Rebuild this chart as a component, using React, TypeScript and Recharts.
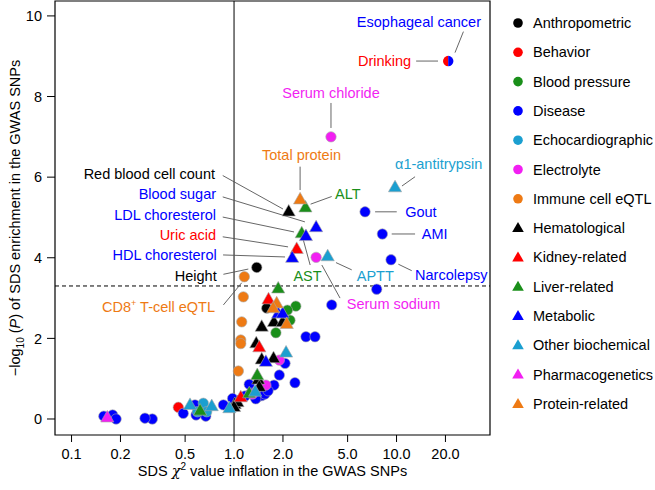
import React from 'react';
import {
  ScatterChart,
  Scatter,
  XAxis,
  YAxis,
  ReferenceLine,
  ReferenceArea,
  Label
} from 'recharts';

type Pt = { x: number; y: number; name?: string };

// values (x = SDS chi2 inflation, y = -log10 P)
const anthropometric: Pt[] = [
  { x: 1.38, y: 3.76, name: 'Height' },
  { x: 1.59, y: 2.75 },
];
const behavior: Pt[] = [
  { x: 20.8, y: 8.88, name: 'Drinking' },
  { x: 0.454, y: 0.29 },
];
const bloodPressure: Pt[] = [
  { x: 2.4, y: 2.8 }, { x: 2.13, y: 2.7 }, { x: 2.21, y: 2.45 }, { x: 1.81, y: 2.14 },
];
const disease: Pt[] = [
  { x: 20.8, y: 8.88, name: 'Esophageal cancer' },
  { x: 6.4, y: 5.14, name: 'Gout' },
  { x: 8.18, y: 4.59, name: 'AMI' },
  { x: 9.25, y: 3.95, name: 'Narcolepsy' },
  { x: 7.55, y: 3.22 }, { x: 3.99, y: 2.83 }, { x: 2.77, y: 2.04 }, { x: 3.15, y: 2.04 },
  { x: 2.37, y: 0.9 }, { x: 2.06, y: 1.38 }, { x: 1.9, y: 1.09 }, { x: 1.76, y: 0.84 },
  { x: 1.24, y: 0.86 }, { x: 1.17, y: 0.57 }, { x: 0.98, y: 0.51 }, { x: 0.86, y: 0.35 },
  { x: 0.67, y: 0.07 }, { x: 0.584, y: 0.1 }, { x: 0.575, y: 0.35 }, { x: 0.487, y: 0.14 },
  { x: 0.314, y: 0.0 }, { x: 0.283, y: 0.02 }, { x: 0.158, y: 0.07 }, { x: 0.179, y: 0.1 },
  { x: 0.188, y: 0.0 }, { x: 1.27, y: 0.64 }, { x: 1.33, y: 0.58 }, { x: 1.4, y: 0.55 },
  { x: 1.48, y: 0.58 }, { x: 1.55, y: 0.62 }, { x: 1.62, y: 0.7 }, { x: 1.36, y: 0.5 },
];
const echocardiographic: Pt[] = [
  { x: 0.647, y: 0.39 }, { x: 0.595, y: 0.18 }, { x: 0.679, y: 0.18 },
];
const electrolyte: Pt[] = [
  { x: 3.95, y: 7.0, name: 'Serum chloride' },
  { x: 3.2, y: 4.01, name: 'Serum sodium' },
  { x: 1.9, y: 1.46 }, { x: 1.57, y: 0.84 }, { x: 1.3, y: 0.62 },
];
const immuneEqtl: Pt[] = [
  { x: 1.157, y: 3.53 }, { x: 1.141, y: 3.03 }, { x: 1.115, y: 2.41 },
  { x: 1.1, y: 1.96 }, { x: 1.1, y: 1.87 }, { x: 1.063, y: 1.19 },
];
const hematological: Pt[] = [
  { x: 2.17, y: 5.15, name: 'Red blood cell count' },
  { x: 1.76, y: 2.41 }, { x: 1.99, y: 2.41 }, { x: 1.48, y: 2.29 }, { x: 1.37, y: 1.88 },
  { x: 1.48, y: 1.48 }, { x: 1.75, y: 1.51 }, { x: 1.41, y: 0.98 }, { x: 1.43, y: 0.8 },
  { x: 1.01, y: 0.37 }, { x: 1.05, y: 0.42 }, { x: 1.0, y: 0.3 },
];
const kidney: Pt[] = [
  { x: 2.43, y: 4.22, name: 'Uric acid' },
  { x: 1.63, y: 2.97 }, { x: 1.43, y: 1.78 }, { x: 1.1, y: 0.54 },
];
const liver: Pt[] = [
  { x: 2.75, y: 5.25, name: 'ALT' },
  { x: 2.61, y: 4.61, name: 'AST' },
  { x: 1.87, y: 3.24 }, { x: 1.39, y: 1.09 }, { x: 0.618, y: 0.21 }, { x: 1.24, y: 0.64 },
];
const metabolic: Pt[] = [
  { x: 3.2, y: 4.76, name: 'Blood sugar' },
  { x: 2.77, y: 4.54, name: 'LDL choresterol' },
  { x: 2.28, y: 4.0, name: 'HDL choresterol' },
  { x: 1.87, y: 2.62 }, { x: 1.99, y: 2.62 }, { x: 1.57, y: 1.42 },
];
const otherBiochemical: Pt[] = [
  { x: 9.79, y: 5.75, name: 'α1-antitrypsin' },
  { x: 3.77, y: 4.04, name: 'APTT' },
  { x: 2.09, y: 1.65 }, { x: 0.536, y: 0.35 }, { x: 0.729, y: 0.32 },
  { x: 0.936, y: 0.27 }, { x: 1.35, y: 0.68 },
];
const pharmacogenetics: Pt[] = [{ x: 0.166, y: 0.04 }];
const proteinRelated: Pt[] = [
  { x: 2.55, y: 5.45, name: 'Total protein' },
  { x: 1.83, y: 2.87 }, { x: 1.74, y: 2.75 }, { x: 2.11, y: 2.36 },
];

const X_DOMAIN = [0.0791, 37.6];
const Y_DOMAIN = [-0.397, 10.37];
const X_TICKS = [0.1, 0.2, 0.5, 1, 2, 5, 10, 20];
const Y_TICKS = [0, 2, 4, 6, 8, 10];
const P_CUTOFF = 3.3;

const BLACK = '#000000';
const RED = '#ff0000';
const GREEN = '#1a8f1a';
const BLUE = '#0000ff';
const CYAN = '#1b9fd0';
const MAGENTA = '#f21ff2';
const ORANGE = '#ee7a14';

const categories = [
  { name: 'Anthropometric', color: BLACK, tri: false, data: anthropometric },
  { name: 'Behavior', color: RED, tri: false, data: behavior },
  { name: 'Blood pressure', color: GREEN, tri: false, data: bloodPressure },
  { name: 'Disease', color: BLUE, tri: false, data: disease },
  { name: 'Echocardiographic', color: CYAN, tri: false, data: echocardiographic },
  { name: 'Electrolyte', color: MAGENTA, tri: false, data: electrolyte },
  { name: 'Immune cell eQTL', color: ORANGE, tri: false, data: immuneEqtl },
  { name: 'Hematological', color: BLACK, tri: true, data: hematological },
  { name: 'Kidney-related', color: RED, tri: true, data: kidney },
  { name: 'Liver-related', color: GREEN, tri: true, data: liver },
  { name: 'Metabolic', color: BLUE, tri: true, data: metabolic },
  { name: 'Other biochemical', color: CYAN, tri: true, data: otherBiochemical },
  { name: 'Pharmacogenetics', color: MAGENTA, tri: true, data: pharmacogenetics },
  { name: 'Protein-related', color: ORANGE, tri: true, data: proteinRelated },
];

// text annotations, placed in data units
const annotations = [
  { text: 'Esophageal cancer', x: 33.1, y: 9.85, color: BLUE, anchor: 'end' },
  { text: 'Drinking', x: 12.3, y: 8.88, color: RED, anchor: 'end' },
  { text: 'Serum chloride', x: 3.95, y: 8.09, color: MAGENTA, anchor: 'middle' },
  { text: 'Total protein', x: 2.6, y: 6.55, color: ORANGE, anchor: 'middle' },
  { text: 'α1-antitrypsin', x: 9.79, y: 6.33, color: CYAN, anchor: 'start' },
  { text: 'Red blood cell count', x: 0.764, y: 6.08, color: BLACK, anchor: 'end' },
  { text: 'ALT', x: 4.18, y: 5.58, color: GREEN, anchor: 'start' },
  { text: 'Blood sugar', x: 0.775, y: 5.58, color: BLUE, anchor: 'end' },
  { text: 'Gout', x: 11.3, y: 5.14, color: BLUE, anchor: 'start' },
  { text: 'LDL choresterol', x: 0.775, y: 5.06, color: BLUE, anchor: 'end' },
  { text: 'AMI', x: 14.3, y: 4.59, color: BLUE, anchor: 'start' },
  { text: 'Uric acid', x: 0.775, y: 4.57, color: RED, anchor: 'end' },
  { text: 'HDL choresterol', x: 0.782, y: 4.07, color: BLUE, anchor: 'end' },
  { text: 'Height', x: 0.782, y: 3.55, color: BLACK, anchor: 'end' },
  { text: 'AST', x: 2.32, y: 3.55, color: GREEN, anchor: 'start' },
  { text: 'APTT', x: 5.69, y: 3.55, color: CYAN, anchor: 'start' },
  { text: 'Narcolepsy', x: 13.0, y: 3.57, color: BLUE, anchor: 'start' },
  { text: 'Serum sodium', x: 4.94, y: 2.85, color: MAGENTA, anchor: 'start' },
  { text: 'CD8+ T-cell eQTL', x: 0.764, y: 2.78, color: ORANGE, anchor: 'end' },
];

// leader lines [x1, y1, x2, y2] in data units
const leaders = [
  [25.8, 9.61, 22.9, 9.09],
  [13.2, 8.88, 18.0, 8.88],
  [3.95, 7.84, 3.95, 7.22],
  [2.55, 6.26, 2.55, 5.68],
  [10.8, 5.78, 13.0, 6.01],
  [0.852, 6.04, 2.0, 5.21],
  [3.99, 5.52, 2.96, 5.33],
  [0.852, 5.51, 2.73, 4.89],
  [7.38, 5.14, 10.03, 5.14],
  [0.852, 5.01, 2.34, 4.64],
  [9.34, 4.59, 13.0, 4.59],
  [0.852, 4.52, 2.15, 4.27],
  [0.856, 4.07, 2.06, 4.02],
  [0.86, 3.59, 1.224, 3.72],
  [0.86, 2.83, 1.115, 3.38],
  [2.94, 3.82, 2.67, 4.44],
  [4.24, 3.88, 5.3, 3.7],
  [10.26, 3.84, 12.4, 3.68],
  [3.47, 3.82, 4.49, 3.0],
];

const FONT = '"Liberation Sans", Arial, Helvetica, sans-serif';
const PT_STROKE = '#a8a8a8';

const makeShape = (color: string, tri: boolean) => (props: any) => {
  const { cx, cy, payload } = props;
  if (cx == null || cy == null) return <g />;
  if (tri) {
    return (
      <path
        d={`M${cx},${cy - 7}L${cx + 6.6},${cy + 4.6}L${cx - 6.6},${cy + 4.6}Z`}
        fill={color}
        stroke={PT_STROKE}
        strokeWidth={0.6}
      />
    );
  }
  const r = 5.2;
  // the shared Drinking / Esophageal cancer point is drawn half and half
  if (payload && payload.name === 'Drinking') {
    return <path d={`M${cx},${cy - r}A${r},${r} 0 0 0 ${cx},${cy + r}Z`} fill={color} />;
  }
  if (payload && payload.name === 'Esophageal cancer') {
    return <path d={`M${cx},${cy - r}A${r},${r} 0 0 1 ${cx},${cy + r}Z`} fill={color} />;
  }
  return <circle cx={cx} cy={cy} r={r} fill={color} stroke={PT_STROKE} strokeWidth={0.6} />;
};

const AnnotationText = (props: any) => {
  const { cx, cy, payload } = props;
  if (cx == null || cy == null) return <g />;
  const plus = payload.text.startsWith('CD8+');
  return (
    <text
      x={cx}
      y={cy}
      dy="0.35em"
      textAnchor={payload.anchor}
      fill={payload.color}
      fontSize={14.5}
      fontFamily={FONT}
    >
      {plus ? (
        <>
          CD8<tspan dy={-6} fontSize={9}>+</tspan>
          <tspan dy={6}> T-cell eQTL</tspan>
        </>
      ) : (
        payload.text
      )}
    </text>
  );
};

const YTitle = (props: any) => {
  const vb = props.viewBox || { y: 1, height: 434 };
  const cx = 15;
  const cy = vb.y + vb.height / 2;
  return (
    <text
      x={cx}
      y={cy}
      transform={`rotate(-90 ${cx} ${cy})`}
      textAnchor="middle"
      fontSize={14.5}
      fontFamily={FONT}
      fill="#000"
      dy="0.35em"
    >
      −log<tspan dy={4} fontSize={10}>10</tspan>
      <tspan dy={-4}> (</tspan>
      <tspan fontStyle="italic">P</tspan>) of SDS enrichment in the GWAS SNPs
    </text>
  );
};

const XTitle = (props: any) => {
  const vb = props.viewBox || { x: 55, width: 435, y: 435 };
  const cx = vb.x + vb.width / 2;
  return (
    <text
      x={cx}
      y={476}
      textAnchor="middle"
      fontSize={14.5}
      fontFamily={FONT}
      fill="#000"
    >
      SDS <tspan fontStyle="italic" fontFamily="DejaVu Serif, serif">χ</tspan>
      <tspan dy={-6} fontSize={10}>2</tspan>
      <tspan dy={6}> value inflation in the GWAS SNPs</tspan>
    </text>
  );
};

const LegendPanel = () => (
  <svg width={150} height={440} style={{ position: 'absolute', left: 505, top: 0 }}>
    {categories.map((c, i) => {
      const y = 23 + i * 29.3;
      const mx = 13;
      return (
        <g key={c.name}>
          {c.tri ? (
            <path d={`M${mx},${y - 6}L${mx + 5.8},${y + 4}L${mx - 5.8},${y + 4}Z`} fill={c.color} />
          ) : (
            <circle cx={mx} cy={y} r={4.8} fill={c.color} />
          )}
          <text x={28} y={y} dy="0.35em" fontSize={14.5} fontFamily={FONT} fill="#000">
            {c.name}
          </text>
        </g>
      );
    })}
  </svg>
);

export default function App() {
  return (
    <div style={{ position: 'absolute', left: 0, top: 0, width: 655, height: 490, background: '#fff' }}>
      <ScatterChart width={655} height={490} margin={{ top: 1, right: 165, bottom: 0, left: 0 }}>
        <XAxis
          type="number"
          dataKey="x"
          scale="log"
          domain={X_DOMAIN}
          ticks={X_TICKS}
          interval={0}
          allowDataOverflow
          axisLine={false}
          tickLine={{ stroke: '#000' }}
          tickSize={7}
          tickMargin={7}
          tickFormatter={(v: number) => v.toFixed(1)}
          tick={{ fill: '#000', fontSize: 14.5, fontFamily: FONT }}
          height={55}
          label={<Label content={XTitle} />}
        />
        <YAxis
          type="number"
          dataKey="y"
          domain={Y_DOMAIN}
          ticks={Y_TICKS}
          interval={0}
          allowDataOverflow
          axisLine={false}
          tickLine={{ stroke: '#000' }}
          tickSize={8}
          tickMargin={5}
          tick={{ fill: '#000', fontSize: 14.5, fontFamily: FONT }}
          width={55}
          label={<Label content={YTitle} />}
        />
        <ReferenceArea
          x1={X_DOMAIN[0]}
          x2={X_DOMAIN[1]}
          y1={Y_DOMAIN[0]}
          y2={Y_DOMAIN[1]}
          fill="none"
          stroke="#000"
          strokeWidth={1.2}
          ifOverflow="visible"
        />
        <ReferenceLine x={1} stroke="#000" strokeWidth={1} />
        <ReferenceLine y={P_CUTOFF} stroke="#000" strokeDasharray="4 3" strokeWidth={1} />
        {leaders.map((l, i) => (
          <ReferenceLine
            key={i}
            segment={[{ x: l[0], y: l[1] }, { x: l[2], y: l[3] }]}
            stroke="#555"
            strokeWidth={0.9}
          />
        ))}
        {categories.map((c) => (
          <Scatter
            key={c.name}
            name={c.name}
            data={c.data}
            shape={makeShape(c.color, c.tri)}
            isAnimationActive={false}
          />
        ))}
        <Scatter name="labels" data={annotations} shape={AnnotationText} isAnimationActive={false} />
      </ScatterChart>
      <LegendPanel />
    </div>
  );
}
